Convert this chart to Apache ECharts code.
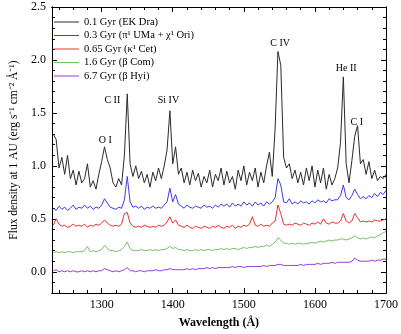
<html>
<head>
<meta charset="utf-8">
<script src="https://cdn.jsdelivr.net/npm/echarts@6/dist/echarts.min.js"></script>
<style>
  body { margin: 0; background: #fff; }
  #main { width: 401px; height: 334px; }
</style>
</head>
<body>
<div id="main"></div>
<script>
// wavelength grid (Å)
var wave = [1232,1236,1240,1244,1248,1252,1256,1260,1264,1268,
  1272,1276,1280,1284,1288,1292,1296,1300,1304,1308,
  1312,1316,1320,1324,1328,1332,1336,1340,1344,1348,
  1352,1356,1360,1364,1368,1372,1376,1380,1384,1388,
  1392,1396,1400,1404,1408,1412,1416,1420,1424,1428,
  1432,1436,1440,1444,1448,1452,1456,1460,1464,1468,
  1472,1476,1480,1484,1488,1492,1496,1500,1504,1508,
  1512,1516,1520,1524,1528,1532,1536,1540,1544,1548,
  1552,1556,1560,1564,1568,1572,1576,1580,1584,1588,
  1592,1596,1600,1604,1608,1612,1616,1620,1624,1628,
  1632,1636,1640,1644,1648,1652,1656,1660,1664,1668,
  1672,1676,1680,1684,1688,1692,1696,1700];

// flux density per star
var ekDra = [1.30,1.25,0.98,1.08,0.92,1.10,0.88,0.96,0.82,0.95,
  0.84,0.88,1.02,0.80,0.86,0.78,0.92,1.04,1.18,1.06,
  0.98,0.84,0.80,0.88,0.82,1.10,1.68,1.02,0.90,1.00,
  0.88,0.95,0.84,0.92,0.80,0.94,0.86,0.98,0.88,1.00,
  1.15,1.52,1.02,1.18,0.92,0.98,0.84,0.94,0.82,0.96,
  0.86,0.93,0.80,0.90,0.84,0.96,0.80,0.92,0.86,0.98,
  0.82,0.95,0.84,0.90,0.78,0.96,0.86,1.00,0.82,0.94,
  0.86,0.98,0.80,0.94,0.84,1.00,1.13,0.90,1.35,2.08,
  1.95,1.08,0.98,1.02,0.88,0.96,0.84,0.94,0.82,0.98,
  0.86,1.00,0.80,0.96,0.84,0.98,0.78,0.92,0.82,0.88,
  0.98,1.22,1.84,1.02,0.84,1.05,1.28,1.38,1.02,1.06,
  0.92,1.04,0.88,0.96,0.86,0.90,0.88,0.92];
var piUMa = [0.60,0.58,0.62,0.59,0.61,0.58,0.60,0.63,0.59,0.61,
  0.60,0.63,0.60,0.62,0.59,0.61,0.60,0.63,0.69,0.65,
  0.61,0.60,0.59,0.61,0.60,0.68,0.90,0.66,0.61,0.62,
  0.60,0.62,0.59,0.61,0.60,0.62,0.60,0.61,0.60,0.63,
  0.66,0.79,0.66,0.73,0.64,0.62,0.60,0.63,0.61,0.60,
  0.62,0.61,0.60,0.63,0.61,0.62,0.60,0.63,0.61,0.64,
  0.62,0.64,0.61,0.65,0.62,0.64,0.62,0.66,0.63,0.65,
  0.62,0.66,0.63,0.65,0.62,0.66,0.64,0.66,0.70,0.88,
  0.82,0.66,0.65,0.69,0.64,0.66,0.64,0.67,0.65,0.66,
  0.64,0.67,0.65,0.68,0.66,0.67,0.65,0.69,0.67,0.68,
  0.68,0.72,0.82,0.70,0.68,0.72,0.78,0.73,0.69,0.71,
  0.69,0.72,0.70,0.74,0.71,0.75,0.73,0.77];
var kapCet = [0.44,0.50,0.45,0.43,0.44,0.42,0.43,0.45,0.43,0.44,
  0.43,0.45,0.42,0.44,0.43,0.45,0.44,0.46,0.49,0.46,
  0.44,0.43,0.44,0.43,0.45,0.55,0.56,0.46,0.43,0.42,
  0.43,0.42,0.44,0.43,0.42,0.43,0.42,0.44,0.43,0.44,
  0.47,0.52,0.46,0.49,0.44,0.43,0.42,0.44,0.42,0.41,
  0.43,0.42,0.41,0.43,0.42,0.41,0.43,0.42,0.44,0.42,
  0.41,0.43,0.42,0.44,0.41,0.43,0.42,0.44,0.43,0.45,
  0.52,0.44,0.43,0.45,0.43,0.44,0.43,0.46,0.48,0.63,
  0.55,0.45,0.44,0.45,0.44,0.46,0.45,0.44,0.46,0.45,
  0.44,0.46,0.45,0.47,0.45,0.50,0.46,0.45,0.47,0.46,
  0.46,0.48,0.55,0.48,0.46,0.48,0.55,0.51,0.47,0.48,
  0.47,0.48,0.47,0.49,0.48,0.48,0.49,0.50];
var betCom = [0.18,0.19,0.18,0.19,0.18,0.19,0.19,0.18,0.19,0.19,
  0.19,0.20,0.24,0.19,0.20,0.19,0.20,0.21,0.25,0.22,
  0.20,0.20,0.19,0.20,0.21,0.24,0.28,0.22,0.20,0.20,
  0.20,0.21,0.20,0.20,0.21,0.20,0.21,0.20,0.21,0.21,
  0.22,0.24,0.22,0.23,0.21,0.21,0.20,0.21,0.20,0.20,
  0.21,0.20,0.21,0.20,0.21,0.21,0.20,0.21,0.21,0.22,
  0.21,0.22,0.21,0.22,0.22,0.21,0.22,0.23,0.22,0.23,
  0.23,0.24,0.23,0.24,0.24,0.25,0.24,0.26,0.28,0.32,
  0.30,0.27,0.27,0.26,0.27,0.26,0.27,0.27,0.26,0.27,
  0.27,0.28,0.27,0.28,0.29,0.28,0.29,0.30,0.29,0.30,
  0.30,0.31,0.31,0.30,0.31,0.32,0.34,0.32,0.31,0.32,
  0.31,0.32,0.33,0.32,0.34,0.35,0.37,0.38];
var betHyi = [0.01,0.02,0.00,0.01,0.00,0.01,0.00,0.01,0.00,0.00,
  0.01,0.00,0.01,0.00,0.01,0.00,0.01,0.01,0.03,0.02,
  0.01,0.00,0.01,0.00,0.01,0.02,0.04,0.01,0.01,0.00,
  0.01,0.01,0.00,0.01,0.01,0.01,0.02,0.01,0.01,0.02,
  0.02,0.03,0.02,0.02,0.02,0.02,0.02,0.03,0.02,0.03,
  0.02,0.03,0.03,0.03,0.04,0.03,0.04,0.03,0.04,0.04,
  0.04,0.04,0.04,0.05,0.04,0.05,0.05,0.04,0.05,0.05,
  0.05,0.05,0.05,0.05,0.06,0.05,0.06,0.06,0.06,0.07,
  0.07,0.06,0.06,0.06,0.06,0.06,0.06,0.07,0.06,0.07,
  0.07,0.07,0.07,0.08,0.07,0.08,0.08,0.08,0.09,0.08,
  0.09,0.09,0.09,0.09,0.09,0.10,0.13,0.11,0.10,0.10,
  0.10,0.10,0.11,0.10,0.11,0.11,0.12,0.12];

var names = ['0.1 Gyr (EK Dra)', '0.3 Gyr (π¹ UMa + χ¹ Ori)', '0.65 Gyr (κ¹ Cet)',
  '1.6 Gyr (β Com)', '6.7 Gyr (β Hyi)'];
var colors = ['#2a2a2a', '#3c3ce6', '#e63232', '#74c262', '#9a38dc'];

// emission line labels
var lineNames = ['O I', 'C II', 'Si IV', 'C IV', 'He II', 'C I'];
var lineWave  = [1305, 1315, 1394, 1551, 1644, 1659];
var lineFlux  = [1.24, 1.62, 1.62, 2.16, 1.92, 1.41];

// ticks
var xMajor = [1300, 1400, 1500, 1600, 1700];
var xMinor = [1240, 1260, 1280, 1320, 1340, 1360, 1380, 1420, 1440, 1460, 1480,
  1520, 1540, 1560, 1580, 1620, 1640, 1660, 1680];
var yMajor = [0, 0.5, 1.0, 1.5, 2.0, 2.5];
var yMinor = [-0.1, 0.1, 0.2, 0.3, 0.4, 0.6, 0.7, 0.8, 0.9, 1.1, 1.2, 1.3, 1.4,
  1.6, 1.7, 1.8, 1.9, 2.1, 2.2, 2.3, 2.4];

var serif = 'Liberation Serif';
var myChart = echarts.init(document.getElementById('main'));

function pairs(ys) {
  return wave.map(function (w, i) { return [w, ys[i]]; });
}

function xAx(pos, ticks, len, labels) {
  return {
    type: 'value', position: pos, min: 1230, max: 1700,
    splitLine: { show: false },
    axisLine: { show: true, onZero: false, lineStyle: { color: '#000', width: 1 } },
    axisTick: { show: true, inside: true, length: len, customValues: ticks, lineStyle: { color: '#000' } },
    axisLabel: labels ? {
      show: true, customValues: ticks, color: '#000', fontFamily: serif, fontSize: 12, margin: 6,
      formatter: function (v) { return String(v); }
    } : { show: false }
  };
}
function yAx(pos, ticks, len, labels) {
  return {
    type: 'value', position: pos, min: -0.2, max: 2.5,
    splitLine: { show: false },
    axisLine: { show: true, onZero: false, lineStyle: { color: '#000', width: 1 } },
    axisTick: { show: true, inside: true, length: len, customValues: ticks, lineStyle: { color: '#000' } },
    axisLabel: labels ? {
      show: true, customValues: ticks, color: '#000', fontFamily: serif, fontSize: 12, margin: 6,
      formatter: function (v) { return v.toFixed(1); }
    } : { show: false }
  };
}

var xAxes = [xAx('bottom', xMajor, 5, true), xAx('bottom', xMinor, 3, false),
  xAx('top', xMajor, 5, false), xAx('top', xMinor, 3, false)];
xAxes[0].name = 'Wavelength (Å)';
xAxes[0].nameLocation = 'middle';
xAxes[0].nameGap = 24;
xAxes[0].nameTextStyle = { fontFamily: serif, fontSize: 12, fontWeight: 'bold', color: '#000' };

var yAxes = [yAx('left', yMajor, 5, true), yAx('left', yMinor, 3, false),
  yAx('right', yMajor, 5, false), yAx('right', yMinor, 3, false)];
yAxes[0].name = 'Flux density at 1 AU (erg s⁻¹ cm⁻² Å⁻¹)';
yAxes[0].nameLocation = 'middle';
yAxes[0].nameGap = 26;
yAxes[0].nameTextStyle = { fontFamily: serif, fontSize: 11.5, color: '#000' };

var allData = [ekDra, piUMa, kapCet, betCom, betHyi];
var series = allData.map(function (d, i) {
  return {
    name: names[i], type: 'line', data: pairs(d), symbol: 'none',
    lineStyle: { width: 1, color: colors[i] }, itemStyle: { color: colors[i] },
    z: 10 - i
  };
});
series[0].markPoint = {
  symbol: 'circle', symbolSize: 1,
  itemStyle: { color: 'rgba(0,0,0,0)' },
  label: {
    show: true, position: 'inside', color: '#000', fontFamily: serif, fontSize: 10,
    formatter: function (p) { return p.name; }
  },
  data: lineNames.map(function (n, i) { return { name: n, coord: [lineWave[i], lineFlux[i]] }; })
};

var option = {
  animation: false,
  backgroundColor: '#fff',
  grid: { left: 44, right: 13, top: 7, bottom: 41, containLabel: false },
  legend: {
    data: names, orient: 'vertical', left: 49, top: 11,
    icon: 'rect', itemWidth: 25, itemHeight: 1, itemGap: 1.5,
    textStyle: { fontFamily: serif, fontSize: 10.5, lineHeight: 12, color: '#000', padding: [0, 0, 0, 0] }
  },
  xAxis: xAxes,
  yAxis: yAxes,
  series: series
};
myChart.setOption(option);
</script>
</body>
</html>
